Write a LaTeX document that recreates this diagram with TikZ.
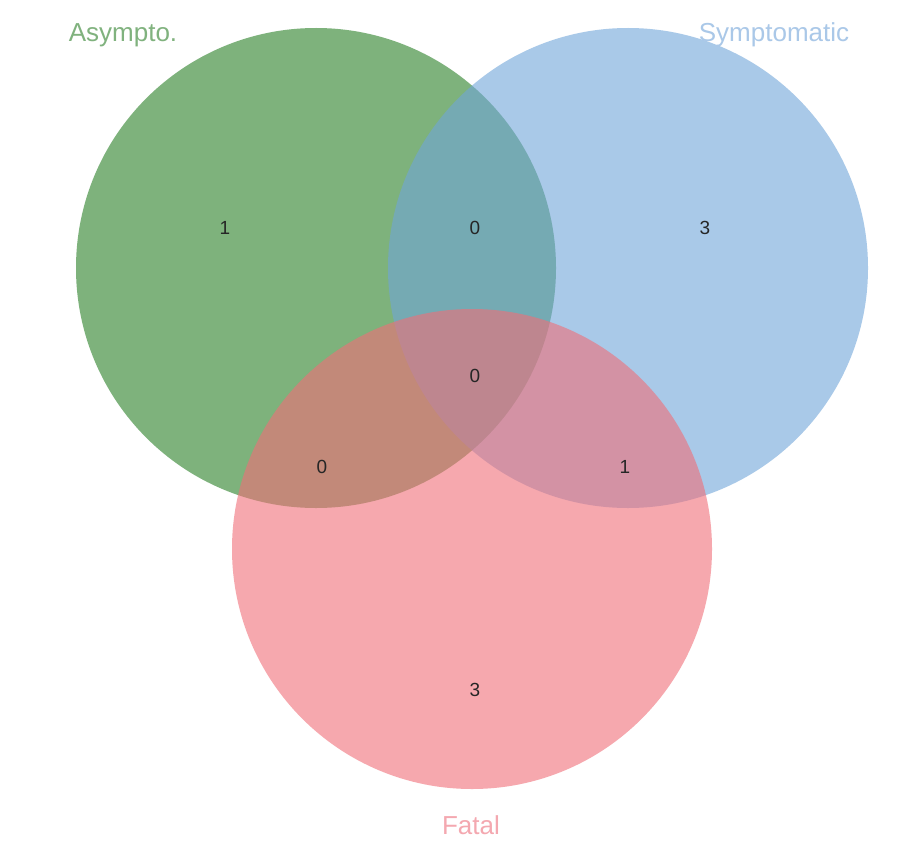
\documentclass[tikz,border=0pt]{standalone}
\usepackage{fontspec}
\setmainfont{Liberation Sans}
\definecolor{cgreen}{RGB}{40,127,37}
\definecolor{cblue}{RGB}{112,165,217}
\definecolor{cpink}{RGB}{240,110,120}
\definecolor{lgreen}{RGB}{128,178,126}
\definecolor{lblue}{RGB}{170,200,232}
\definecolor{lpink}{RGB}{244,168,176}
\begin{document}
\begin{tikzpicture}[x=1pt,y=-1pt,
  setcirc/.style={circle,minimum size=480pt,inner sep=0pt,fill opacity=0.6},
  count/.style={font=\fontsize{19}{22}\selectfont,text=black!85},
  setlabel/.style={font=\fontsize{26}{30}\selectfont}]
\useasboundingbox (0,0) rectangle (899,848);
\fill[white] (0,0) rectangle (899,848);
\node[setcirc,fill=cgreen] (A) at (316,268) {};
\node[setcirc,fill=cblue] (S) at (628,268) {};
\node[setcirc,fill=cpink] (F) at (472,549) {};
\node[count] (nA) at (225,228) {1};
\node[count] (nAS) at (475,228) {0};
\node[count] (nS) at (705,228) {3};
\node[count] (nASF) at (475,376) {0};
\node[count] (nAF) at (322,467) {0};
\node[count] (nSF) at (625,467) {1};
\node[count] (nF) at (475,690) {3};
\node[setlabel,text=lgreen] (lA) at (123,35) {Asympto.};
\node[setlabel,text=lblue] (lS) at (774,35) {Symptomatic};
\node[setlabel,text=lpink] (lF) at (471,825) {Fatal};
\end{tikzpicture}
\end{document}
